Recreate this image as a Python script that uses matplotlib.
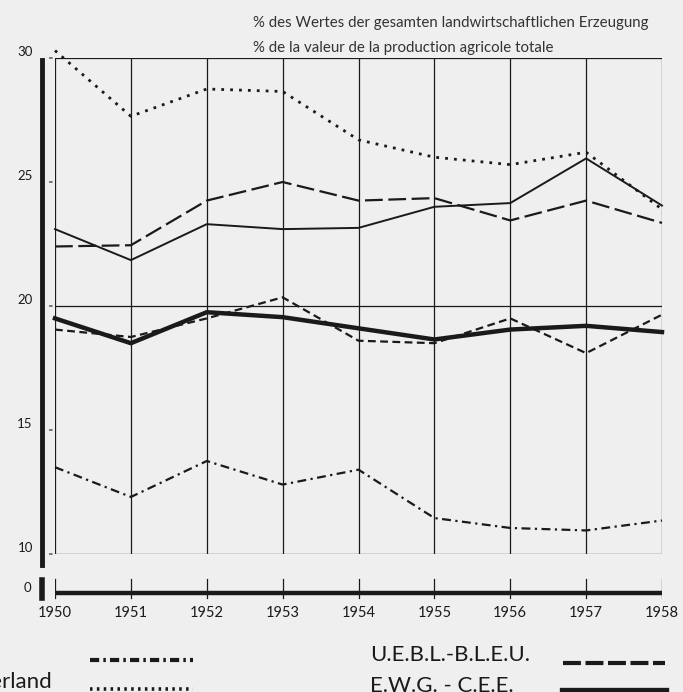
import matplotlib
matplotlib.use("Agg")
import matplotlib.pyplot as plt
from matplotlib.lines import Line2D

plt.rcParams["font.family"] = ["Lato", "DejaVu Sans"]

# Values (percent of total agricultural output value)
years = [1950, 1951, 1952, 1953, 1954, 1955, 1956, 1957, 1958]
italia = [13.5, 12.3, 13.75, 12.8, 13.4, 11.45, 11.05, 10.95, 11.35]
nederland = [30.3, 27.65, 28.75, 28.65, 26.7, 26.0, 25.7, 26.2, 23.9]
france = [22.4, 22.45, 24.25, 25.0, 24.25, 24.35, 23.45, 24.25, 23.35]
deutschland = [23.1, 21.85, 23.3, 23.1, 23.15, 24.0, 24.15, 25.95, 24.05]
uebl = [19.05, 18.75, 19.5, 20.35, 18.6, 18.5, 19.5, 18.1, 19.65]
ewg = [19.5, 18.5, 19.75, 19.55, 19.1, 18.65, 19.05, 19.2, 18.95]

major_y = [10, 20, 30]
tick_y = [10, 15, 20, 25, 30]

header_de = "% des Wertes der gesamten landwirtschaftlichen Erzeugung"
header_fr = "% de la valeur de la production agricole totale"

BG = "#efefef"
INK = "#1a1a1a"
W, H = 683, 692

fig = plt.figure(figsize=(W / 100, H / 100), dpi=100, facecolor=BG)


def box(x0, y0, x1, y1):
    # pixel box (top-left origin) -> figure fraction rect
    return [x0 / W, 1 - y1 / H, (x1 - x0) / W, (y1 - y0) / H]


ax = fig.add_axes(box(55, 58, 662, 554))
ax.set_facecolor(BG)
ax.set_xlim(years[0], years[-1])
ax.set_ylim(10, 30)
for s in ax.spines.values():
    s.set_visible(False)
ax.set_xticks([])
ax.set_yticks([])

for yr in years:
    ax.axvline(yr, color=INK, lw=0.9, zorder=1)
for v in major_y:
    ax.axhline(v, color=INK, lw=0.9, zorder=1)

styles = {
    "italia": dict(ls=(0, (4, 2, 1, 2)), lw=1.6),
    "nederland": dict(ls=(0, (1, 2.2)), lw=2.0),
    "france": dict(ls=(0, (8, 2.5)), lw=1.6),
    "deutschland": dict(ls="-", lw=1.4),
    "uebl": dict(ls=(0, (3.5, 2)), lw=1.6),
    "ewg": dict(ls="-", lw=3.2),
}
series = {"italia": italia, "nederland": nederland, "france": france,
          "deutschland": deutschland, "uebl": uebl, "ewg": ewg}
for key, vals in series.items():
    ax.plot(years, vals, color=INK, zorder=3, clip_on=False, **styles[key])

# thick left bar and y labels
fig.add_artist(Line2D([42 / W, 42 / W], [1 - 60 / H, 1 - 565 / H],
                      color=INK, lw=3.5))
for v in tick_y:
    ax.annotate(str(v), (years[0], v), xytext=(-16, 4), textcoords="offset points",
                ha="right", va="center", fontsize=9.5, color=INK)
    ax.annotate("", (years[0], v), xytext=(-6, 0), textcoords="offset points",
                arrowprops=dict(arrowstyle="-", color=INK, lw=0.8))

# lower strip with the zero line
ax0 = fig.add_axes(box(55, 578, 662, 600))
ax0.set_facecolor(BG)
ax0.set_xlim(years[0], years[-1])
ax0.set_ylim(-0.7, 1.5)
for s in ax0.spines.values():
    s.set_visible(False)
ax0.set_yticks([])
ax0.axhline(0, color=INK, lw=3.2)
for yr in years:
    ax0.axvline(yr, ymin=0.1, ymax=0.95, color=INK, lw=0.9)
ax0.set_xticks(years)
ax0.set_xticklabels([str(y) for y in years], fontsize=10.5, color=INK)
ax0.tick_params(axis="x", length=0, pad=4)
fig.add_artist(Line2D([42 / W, 42 / W], [1 - 580 / H, 1 - 598 / H],
                      color=INK, lw=4))
fig.text(31 / W, 1 - 588 / H, "0", ha="right", va="center", fontsize=9.5, color=INK)

# header
fig.text(253 / W, 1 - 23 / H, header_de, fontsize=10.8, color="#333333", va="center")
fig.text(253 / W, 1 - 48 / H, header_fr, fontsize=10.8, color="#333333", va="center")

# legend (cropped at the figure edge like the reference)
fig.text(52 / W, 1 - 682 / H, "Nederland", ha="right", va="center",
         fontsize=16, color=INK)
fig.text(370 / W, 1 - 655 / H, "U.E.B.L.-B.L.E.U.", ha="left", va="center",
         fontsize=16, color=INK)
fig.text(370 / W, 1 - 686 / H, "E.W.G. - C.E.E.", ha="left", va="center",
         fontsize=16, color=INK)
legend_styles = {
    "italia": dict(ls=(0, (2.2, 1, 0.6, 1)), lw=3.0),
    "nederland": dict(ls=(0, (0.7, 1.2)), lw=2.6),
    "uebl": dict(ls=(0, (4.3, 1.1)), lw=3.0),
    "ewg": dict(ls="-", lw=6),
}
samples = [((90, 193), 660, "italia"), ((90, 193), 689, "nederland"),
           ((563, 665), 663, "uebl"), ((564, 665), 692, "ewg")]
for (x0, x1), y, key in samples:
    fig.add_artist(Line2D([x0 / W, x1 / W], [1 - y / H, 1 - y / H],
                          color=INK, **legend_styles[key]))

fig.savefig("out.png", dpi=100, facecolor=BG)
